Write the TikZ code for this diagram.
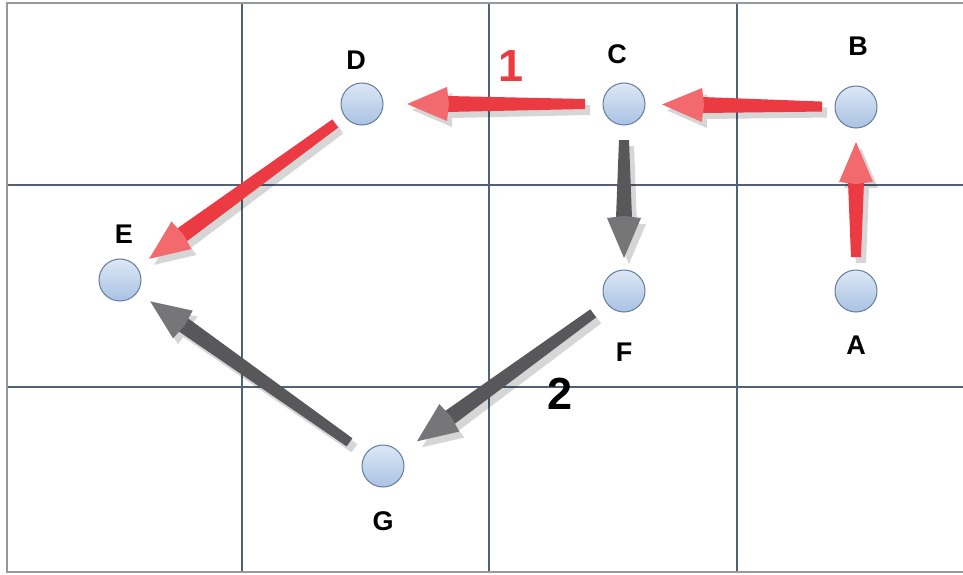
\documentclass[tikz,border=0pt]{standalone}
\usepackage{fontspec}
\setmainfont{Liberation Sans}
\usetikzlibrary{calc}
\definecolor{gridc}{RGB}{80,98,115}
\definecolor{framec}{RGB}{150,152,155}
\definecolor{nodefill}{RGB}{170,194,226}
\definecolor{nodetop}{RGB}{220,231,246}
\definecolor{nodeedge}{RGB}{100,125,158}
\definecolor{redarrow}{RGB}{236,58,66}
\definecolor{redhead}{RGB}{242,105,110}
\definecolor{grayarrow}{RGB}{88,88,90}
\definecolor{grayhead}{RGB}{118,118,120}
\tikzset{
  vtx/.style={circle,minimum size=42pt,inner sep=0pt,draw=nodeedge,line width=1pt,top color=nodetop,bottom color=nodefill},
  lbl/.style={font=\bfseries\fontsize{27}{27}\selectfont,inner sep=0pt},
  num/.style={font=\bfseries\fontsize{45}{45}\selectfont,inner sep=0pt},
  redA/.style={fill=redarrow},
  redH/.style={fill=redhead},
  grayA/.style={fill=grayarrow},
  grayH/.style={fill=grayhead},
}
% #1 shaft style, #2 head style, #3 from node, #4 to node, #5 tail distance, #6 tip distance
\newcommand\blockarr[6]{%
  \coordinate (ta) at ($(#3)!#5!(#4)$);
  \coordinate (tp) at ($(#4)!#6!(#3)$);
  \coordinate (nk) at ($(tp)!40pt!(ta)$);
  \fill[black,opacity=0.16,transform canvas={shift={(5pt,-6pt)}}]
    ($(ta)!5pt!90:(tp)$) -- ($(nk)!8pt!90:(tp)$) -- ($(nk)!17pt!90:(tp)$) -- (tp)
    -- ($(nk)!17pt!-90:(tp)$) -- ($(nk)!8pt!-90:(tp)$) -- ($(ta)!5pt!-90:(tp)$) -- cycle;
  \fill[#1] ($(ta)!5pt!90:(tp)$) -- ($(nk)!8pt!90:(tp)$) -- ($(nk)!8pt!-90:(tp)$) -- ($(ta)!5pt!-90:(tp)$) -- cycle;
  \fill[#2] ($(nk)!2pt!(ta)$) -- ($(nk)!17pt!90:(tp)$) -- (tp) -- ($(nk)!17pt!-90:(tp)$) -- cycle;
}
\begin{document}
\begin{tikzpicture}[x=1pt,y=-1pt]
\useasboundingbox (0,0) rectangle (963,575);
\fill[white] (0,0) rectangle (963,575);
% grid
\draw[gridc,line width=1.3pt] (242,3) -- (242,572) (489,3) -- (489,572) (737,3) -- (737,572)
  (7,185) -- (963,185) (7,387) -- (963,387);
% frame
\draw[framec,line width=2.2pt] (963,3) -- (7,3) -- (7,572) -- (963,572);
% vertices
\node[vtx] (D) at (362,104) {};
\node[vtx] (C) at (624,104) {};
\node[vtx] (B) at (856,107) {};
\node[vtx] (A) at (856,291) {};
\node[vtx] (F) at (624,291) {};
\node[vtx] (E) at (120,280) {};
\node[vtx] (G) at (383,466) {};
% labels
\node[lbl] (lD) at (356,60) {D};
\node[lbl] (lC) at (617,54) {C};
\node[lbl] (lB) at (858,46) {B};
\node[lbl] (lE) at (124,234) {E};
\node[lbl] (lF) at (624,352) {F};
\node[lbl] (lA) at (856,345) {A};
\node[lbl] (lG) at (383,521) {G};
\node[num,text=redarrow] (n1) at (511,66) {1};
\node[num] (n2) at (560,394) {2};
% arrows
\blockarr{redA}{redH}{A}{B}{34pt}{35pt}
\blockarr{redA}{redH}{B}{C}{34pt}{38pt}
\blockarr{redA}{redH}{C}{D}{39pt}{45pt}
\blockarr{redA}{redH}{D}{E}{33pt}{36pt}
\blockarr{grayA}{grayH}{C}{F}{36pt}{33pt}
\blockarr{grayA}{grayH}{F}{G}{38pt}{42pt}
\blockarr{grayA}{grayH}{G}{E}{41pt}{37pt}
\end{tikzpicture}
\end{document}
